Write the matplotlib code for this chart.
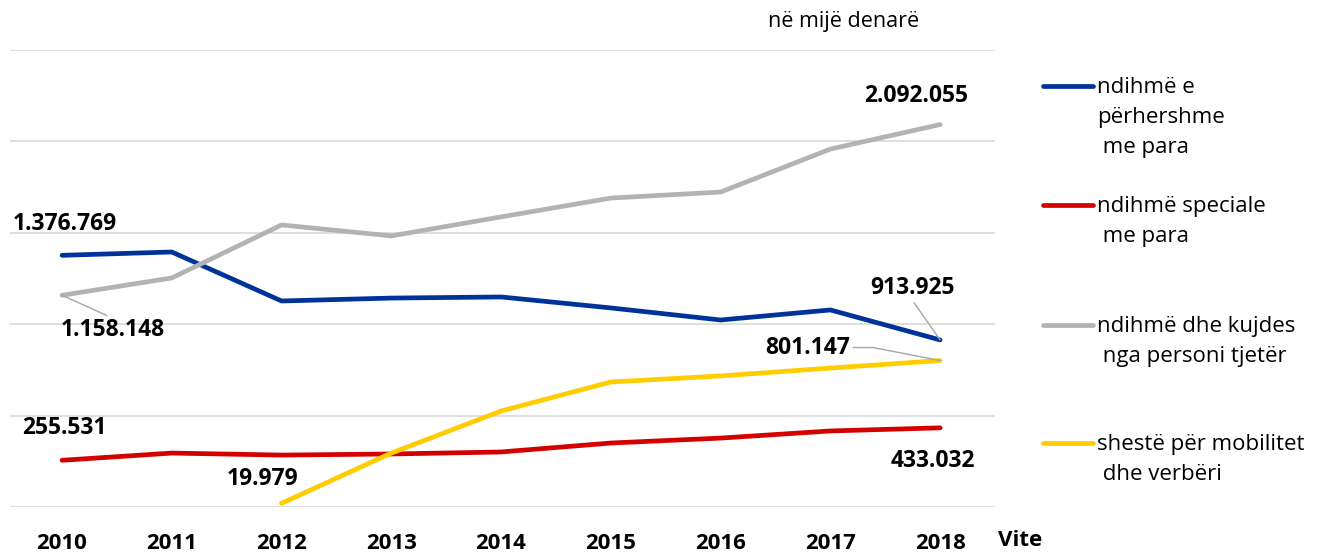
import matplotlib
matplotlib.use("Agg")
import matplotlib.pyplot as plt
from matplotlib.lines import Line2D

plt.rcParams['font.family'] = ['Open Sans', 'DejaVu Sans']

years = ['2010', '2011', '2012', '2013', '2014', '2015', '2016', '2017', '2018']

# in thousand denars (end points as labelled)
perhershme = [1376769, 1395000, 1127000, 1143000, 1149000, 1089000, 1023000, 1078000, 913925]
speciale = [255531, 295000, 284000, 290000, 301000, 350000, 377000, 416000, 433032]
kujdes = [1158148, 1253000, 1543000, 1483000, 1587000, 1690000, 1723000, 1958000, 2092055]
mobilitet = [None, None, 19979, 295000, 525000, 684000, 717000, 760000, 801147]

series_names = ['ndihmë e\npërhershme\n me para', 'ndihmë speciale\n me para',
                'ndihmë dhe kujdes\n nga personi tjetër', 'shestë për mobilitet\n dhe verbëri']
colors = ['#003399', '#D40000', '#B3B3B3', '#FFCC00']


def fmt(v):
    return f"{v:,}".replace(',', '.')


def plot_chart():
    fig = plt.figure(figsize=(13.17, 5.52), dpi=100)
    ax = fig.add_axes([10 / 1317, 1 - 507 / 552, 985 / 1317, 457 / 552])

    x = list(range(len(years)))
    ax.plot(x, perhershme, color=colors[0], lw=3.4, solid_capstyle='round', zorder=3)
    ax.plot(x, speciale, color=colors[1], lw=3.4, solid_capstyle='round', zorder=3)
    ax.plot(x, kujdes, color=colors[2], lw=3.4, solid_capstyle='round', zorder=3)
    xm = [i for i, v in zip(x, mobilitet) if v is not None]
    ym = [v for v in mobilitet if v is not None]
    ax.plot(xm, ym, color=colors[3], lw=3.4, solid_capstyle='round', zorder=3)

    ax.set_xlim(-0.474, 8.5)
    ax.set_ylim(0, 2500000)
    ax.set_yticks([0, 500000, 1000000, 1500000, 2000000, 2500000])
    ax.yaxis.grid(True, color='#D9D9D9', lw=1.2)
    ax.set_axisbelow(True)
    ax.tick_params(axis='y', left=False, labelleft=False)
    ax.set_xticks(x)
    ax.set_xticklabels(years, fontsize=16, fontweight='bold')
    ax.tick_params(axis='x', length=0, pad=19)
    for s in ax.spines.values():
        s.set_visible(False)

    lead = dict(arrowstyle='-', color='#A6A6A6', lw=1, shrinkA=0, shrinkB=0)
    kw = dict(textcoords='offset pixels', ha='center', va='center',
              fontsize=16.5, fontweight='bold', zorder=5)
    ax.annotate(fmt(perhershme[0]), (0, perhershme[0]), xytext=(3, 31), **kw)
    ax.annotate(fmt(kujdes[0]), (0, kujdes[0]), xytext=(51, -35),
                arrowprops=dict(lead, relpos=(0.5, 1.0)), **kw)
    ax.annotate(fmt(kujdes[8]), (8, kujdes[8]), xytext=(-24, 29), **kw)
    ax.annotate(fmt(perhershme[8]), (8, perhershme[8]), xytext=(-28, 52),
                arrowprops=dict(lead, relpos=(0.5, 0.0)), **kw)
    ax.annotate(fmt(mobilitet[8]), (8, mobilitet[8]), xytext=(-132, 13),
                arrowprops=dict(lead, relpos=(1.0, 0.5),
                                connectionstyle='angle,angleA=0,angleB=169,rad=0'), **kw)
    ax.annotate(fmt(speciale[0]), (0, speciale[0]), xytext=(2, 32), **kw)
    ax.annotate(fmt(mobilitet[2]), (2, mobilitet[2]), xytext=(-19, 24), **kw)
    ax.annotate(fmt(speciale[8]), (8, speciale[8]), xytext=(-7, -33), **kw)

    fig.text(1020 / 1317, 1 - 541 / 552, 'Vite', ha='center', va='center',
             fontsize=16, fontweight='bold')
    fig.text(844 / 1317, 1 - 22 / 552, 'në mijë denarë', ha='center', va='center',
             fontsize=15.5)

    # legend drawn by hand to keep the odd line breaks
    for ly, name, c in zip([86, 205, 325, 443], series_names, colors):
        yf = 1 - ly / 552
        fig.add_artist(Line2D([1043 / 1317, 1093 / 1317], [yf, yf], color=c, lw=3.4,
                              solid_capstyle='round', transform=fig.transFigure))
        fig.text(1097 / 1317, yf + 9 / 552, name, ha='left', va='top',
                 fontsize=16, linespacing=1.55)

    fig.savefig('out.png', dpi=100)


if __name__ == '__main__':
    plot_chart()
